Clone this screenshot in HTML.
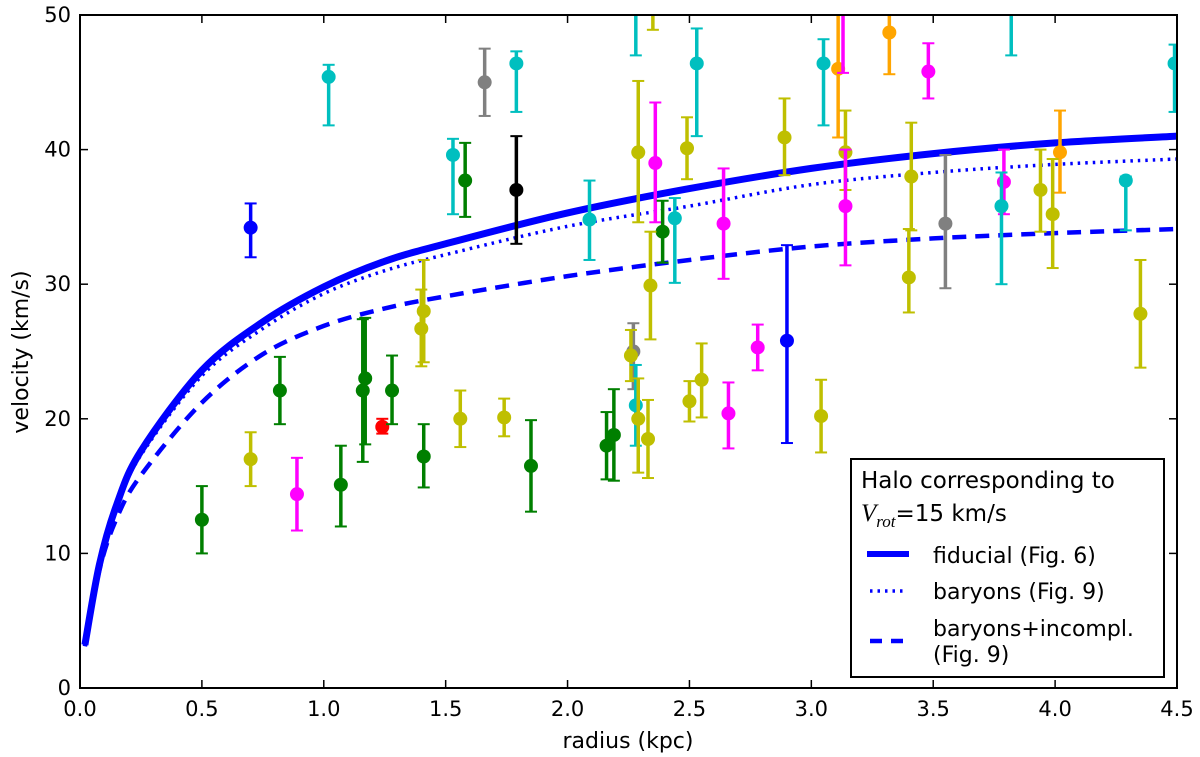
<!DOCTYPE html>
<html><head><meta charset="utf-8">
<style>
html,body{margin:0;padding:0;background:#fff;}
svg{display:block;font-family:"DejaVu Sans","Liberation Sans",sans-serif;}
</style></head>
<body>
<svg id="chart" width="1200" height="757" viewBox="0 0 1200 757" xmlns="http://www.w3.org/2000/svg">
<g id="curves"></g>
<g id="points"></g>
<g id="axes"></g>
<g id="legend">
  <rect x="851" y="459" width="313" height="218" fill="#fff" stroke="#000" stroke-width="2"/>
  <text x="861" y="488" font-size="23">Halo corresponding to</text>
  <text x="861" y="521" font-size="23"><tspan font-family="Liberation Serif,serif" font-style="italic" font-size="25">V</tspan><tspan font-family="Liberation Serif,serif" font-style="italic" font-size="17" dy="6">rot</tspan><tspan dy="-6">=15 km/s</tspan></text>
  <line x1="867" y1="554" x2="909" y2="554" stroke="#0000ff" stroke-width="6"/>
  <text x="933" y="563" font-size="22">fiducial (Fig. 6)</text>
  <line x1="870" y1="591" x2="906" y2="591" stroke="#0000ff" stroke-width="3.5" stroke-dasharray="2.5,5"/>
  <text x="933" y="599" font-size="22">baryons (Fig. 9)</text>
  <line x1="870" y1="641" x2="906" y2="641" stroke="#0000ff" stroke-width="4.5" stroke-dasharray="12,9"/>
  <text x="933" y="636" font-size="22">baryons+incompl.</text>
  <text x="933" y="662" font-size="22">(Fig. 9)</text>
</g>
</svg>
<script>
const xTicks = [0.0,0.5,1.0,1.5,2.0,2.5,3.0,3.5,4.0,4.5];
const xTickLabels = ["0.0","0.5","1.0","1.5","2.0","2.5","3.0","3.5","4.0","4.5"];
const yTicks = [0,10,20,30,40,50];
const yTickLabels = ["0","10","20","30","40","50"];
const curveR = [0.02,0.08,0.15,0.25,0.5,0.75,1.0,1.25,1.5,2.0,2.5,3.0,3.5,4.0,4.5];
const fiducialV = [3.2,9.2,13.6,17.6,23.6,27.2,29.8,31.7,33.0,35.3,37.1,38.6,39.7,40.5,41.0];
const baryonsV = [3.2,9.1,13.4,17.3,23.2,26.7,29.3,31.0,32.2,34.3,35.8,37.4,38.3,38.9,39.3];
const incomplV = [3.1,8.8,12.6,15.8,21.2,24.8,26.9,28.2,29.1,30.6,31.8,32.8,33.4,33.8,34.1];
const ptR  = [0.70,1.02,1.53,1.58,1.66,1.79,1.79,2.09,2.28,2.35,2.53,3.05,3.11,3.13,3.32,3.48,3.82,4.49,2.29,2.36,2.49,2.39,2.44,2.64,2.34,2.89,2.90,2.78,2.66,3.04,2.50,2.55,2.27,2.26,2.28,2.29,2.33,2.16,2.19,1.85,1.74,1.56,1.40,1.41,1.41,1.24,1.28,1.16,1.17,1.07,0.89,0.70,0.82,0.50,4.02,3.14,3.14,3.41,3.40,3.55,3.79,3.78,3.94,3.99,4.29,4.35];
const ptV  = [34.2,45.4,39.6,37.7,45.0,46.4,37.0,34.8,52.0,52.0,46.4,46.4,46.0,52.0,48.7,45.8,52.0,46.4,39.8,39.0,40.1,33.9,34.9,34.5,29.9,40.9,25.8,25.3,20.4,20.2,21.3,22.9,25.0,24.7,21.0,20.0,18.5,18.0,18.8,16.5,20.1,20.0,26.7,28.0,17.2,19.4,22.1,22.1,23.0,15.1,14.4,17.0,22.1,12.5,39.8,39.8,35.8,38.0,30.5,34.5,37.6,35.8,37.0,35.2,37.7,27.8];
const ptLo = [32.0,41.8,35.2,35.0,42.5,42.8,33.0,31.8,47.0,48.9,41.0,41.8,40.9,45.7,45.6,43.8,47.0,42.8,34.6,34.6,37.8,31.6,30.1,30.4,25.9,38.1,18.2,23.6,17.8,17.5,19.8,20.1,22.2,22.8,18.0,16.0,15.6,15.5,15.4,13.1,18.7,17.9,23.9,24.2,14.9,18.9,19.6,16.8,18.1,12.0,11.7,15.0,19.6,10.0,36.8,37.0,31.4,34.0,27.9,29.7,35.2,30.0,33.9,31.2,34.0,23.8];
const ptHi = [36.0,46.3,40.8,40.5,47.5,47.3,41.0,37.7,57.0,55.0,49.0,48.2,52.0,60.0,52.0,47.9,57.0,47.8,45.1,43.5,42.4,36.2,36.4,38.6,33.9,43.8,32.9,27.0,22.7,22.9,22.8,25.6,27.1,26.6,24.0,23.0,21.4,20.5,22.2,19.9,21.5,22.1,29.6,31.8,19.6,20.0,24.7,27.4,27.5,18.0,17.1,19.0,24.6,15.0,42.9,42.9,40.0,42.0,34.1,39.6,40.0,38.3,40.0,39.3,38.0,31.8];
const ptColor = ["#0000ff","#00bfbf","#00bfbf","#007f00","#808080","#00bfbf","#000000","#00bfbf","#00bfbf","#bfbf00","#00bfbf","#00bfbf","#ffa500","#ff00ff","#ffa500","#ff00ff","#00bfbf","#00bfbf","#bfbf00","#ff00ff","#bfbf00","#007f00","#00bfbf","#ff00ff","#bfbf00","#bfbf00","#0000ff","#ff00ff","#ff00ff","#bfbf00","#bfbf00","#bfbf00","#808080","#bfbf00","#00bfbf","#bfbf00","#bfbf00","#007f00","#007f00","#007f00","#bfbf00","#bfbf00","#bfbf00","#bfbf00","#007f00","#ff0000","#007f00","#007f00","#007f00","#007f00","#ff00ff","#bfbf00","#007f00","#007f00","#ffa500","#bfbf00","#ff00ff","#bfbf00","#bfbf00","#808080","#ff00ff","#00bfbf","#bfbf00","#bfbf00","#00bfbf","#bfbf00"];

const NS="http://www.w3.org/2000/svg";
const X0=80,X1=1177,Y0=688,Y1=15;
function sx(r){return X0+(r-0)/(4.5-0)*(X1-X0);}
function sy(v){return Y0-(v-0)/(50-0)*(Y0-Y1);}
function mk(tag,attrs,parent){const e=document.createElementNS(NS,tag);for(const k in attrs)e.setAttribute(k,attrs[k]);parent.appendChild(e);return e;}

const defs=mk('defs',{},document.getElementById('chart'));
const cp=mk('clipPath',{id:'plotclip'},defs);
mk('rect',{x:X0,y:Y1,width:X1-X0,height:Y0-Y1},cp);

function smoothPath(vals){
  const P=vals.map((v,i)=>[sx(curveR[i]),sy(v)]);
  let d='M'+P[0][0].toFixed(1)+','+P[0][1].toFixed(1);
  for(let i=0;i<P.length-1;i++){
    const p0=P[Math.max(0,i-1)],p1=P[i],p2=P[i+1],p3=P[Math.min(P.length-1,i+2)];
    const c1=[p1[0]+(p2[0]-p0[0])/6,p1[1]+(p2[1]-p0[1])/6];
    const c2=[p2[0]-(p3[0]-p1[0])/6,p2[1]-(p3[1]-p1[1])/6];
    d+=' C'+c1[0].toFixed(1)+','+c1[1].toFixed(1)+' '+c2[0].toFixed(1)+','+c2[1].toFixed(1)+' '+p2[0].toFixed(1)+','+p2[1].toFixed(1);
  }
  return d;
}
const curves=document.getElementById('curves');
curves.setAttribute('clip-path','url(#plotclip)');
function curve(vals,w,dash,name){
  const p=mk('path',{d:smoothPath(vals),fill:'none',stroke:'#0000ff','stroke-width':w,'stroke-linejoin':'round'},curves);
  if(dash)p.setAttribute('stroke-dasharray',dash);
  
  
}
curve(fiducialV,7,null,'fiducial-curve');
curve(baryonsV,3.5,'2.5,5','baryons-curve');
curve(incomplV,4.5,'14,9','baryons-incompl-curve');

const pts=document.getElementById('points');
pts.setAttribute('clip-path','url(#plotclip)');
for(let i=0;i<ptR.length;i++){
  const g=mk('g',{},pts);
  
  
  const x=sx(ptR[i]),c=ptColor[i];
  mk('line',{x1:x,x2:x,y1:sy(ptLo[i]),y2:sy(ptHi[i]),stroke:c,'stroke-width':3.5},g);
  mk('line',{x1:x-6,x2:x+6,y1:sy(ptLo[i]),y2:sy(ptLo[i]),stroke:c,'stroke-width':2},g);
  mk('line',{x1:x-6,x2:x+6,y1:sy(ptHi[i]),y2:sy(ptHi[i]),stroke:c,'stroke-width':2},g);
  mk('circle',{cx:x,cy:sy(ptV[i]),r:7,fill:c},g);
}

const ax=document.getElementById('axes');
const fr=mk('rect',{x:X0,y:Y1,width:X1-X0,height:Y0-Y1,fill:'none',stroke:'#000','stroke-width':2},ax);


xTicks.forEach((t,i)=>{
  const x=sx(t);
  mk('line',{x1:x,x2:x,y1:Y0,y2:Y0-8,stroke:'#000','stroke-width':1.5},ax);
  mk('line',{x1:x,x2:x,y1:Y1,y2:Y1+8,stroke:'#000','stroke-width':1.5},ax);
  const tx=mk('text',{x:x,y:716,'font-size':21,'text-anchor':'middle'},ax);
  tx.textContent=xTickLabels[i];
  
  
});
yTicks.forEach((t,i)=>{
  const y=sy(t);
  mk('line',{x1:X0,x2:X0+8,y1:y,y2:y,stroke:'#000','stroke-width':1.5},ax);
  mk('line',{x1:X1,x2:X1-8,y1:y,y2:y,stroke:'#000','stroke-width':1.5},ax);
  const tx=mk('text',{x:71,y:y+7,'font-size':21,'text-anchor':'end'},ax);
  tx.textContent=yTickLabels[i];
  
  
});
const xt=mk('text',{x:628,y:748,'font-size':22,'text-anchor':'middle'},ax);
xt.textContent='radius  (kpc)';


const yt=mk('text',{x:0,y:0,'font-size':22,'text-anchor':'middle',transform:'translate(28,352) rotate(-90)'},ax);
yt.textContent='velocity  (km/s)';


</script>
</body></html>
